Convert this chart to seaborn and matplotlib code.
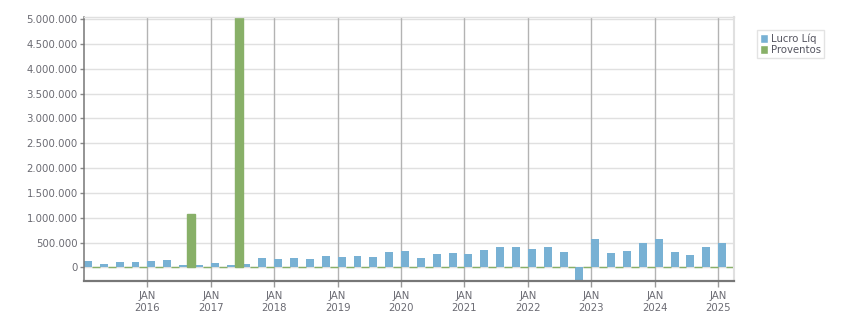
import matplotlib
matplotlib.use("Agg")
import matplotlib.pyplot as plt
import seaborn as sns
import pandas as pd
from matplotlib.ticker import FuncFormatter

# Quarterly data Q1 2015 .. Q1 2025
quarters = [f"{y}T{q}" for y in range(2015, 2026) for q in range(1, 5)][:41]
lucro_liq = [128000, 67000, 108000, 108000, 128000, 155000, 47000, 47000,
             87000, 47000, 67000, 188000, 168000, 188000, 168000, 228000,
             208000, 228000, 208000, 309000, 329000, 188000, 269000, 289000,
             269000, 349000, 410000, 410000, 370000, 410000, 309000, -255000,
             571000, 289000, 329000, 491000, 571000, 309000, 249000, 410000,
             491000]
proventos = [0, 0, 0, 0, 0, 0, 1082000, 0,
             0, 5050000, 0, 0, 0, 0, 0, 0,
             0, 0, 0, 0, 0, 0, 0, 0,
             0, 0, 0, 0, 0, 0, 0, 0,
             0, 0, 0, 0, 0, 0, 0, 0,
             0]
series_names = ["Lucro Líq", "Proventos"]
year_labels = ["JAN\n2016", "JAN\n2017", "JAN\n2018", "JAN\n2019", "JAN\n2020",
               "JAN\n2021", "JAN\n2022", "JAN\n2023", "JAN\n2024", "JAN\n2025"]
y_ticks = [0, 500000, 1000000, 1500000, 2000000, 2500000, 3000000,
           3500000, 4000000, 4500000, 5000000]

BLUE = "#78b1d4"
GREEN = "#88b068"
TXT = "#6a6a72"

df = pd.DataFrame({
    "quarter": quarters * 2,
    "serie": [series_names[0]] * len(quarters) + [series_names[1]] * len(quarters),
    "valor": lucro_liq + proventos,
})

sns.set_style("white")
plt.rcParams["font.family"] = ["DejaVu Sans"]

fig = plt.figure(figsize=(8.51, 3.13), dpi=100)
ax = fig.add_axes([84 / 851, 1 - 281 / 313, (734 - 84) / 851, (281 - 17) / 313])

sns.barplot(data=df, x="quarter", y="valor", hue="serie", order=quarters,
            hue_order=series_names, palette=[BLUE, GREEN], width=1.0,
            dodge=True, saturation=1, ax=ax, zorder=3)

# make zero-height green bars visible as thin line
for p in ax.containers[1]:
    p.set_edgecolor(GREEN)
    p.set_linewidth(1.0)
for p in ax.containers[0]:
    p.set_linewidth(0)

ax.set_xlim(-0.5, len(quarters) - 0.5)
ax.set_ylim(-276000, 5046000)

# x ticks at January boundaries
xt = [3.5 + 4 * k for k in range(len(year_labels))]
ax.set_xticks(xt)
ax.set_xticklabels(year_labels, fontsize=7.3, color=TXT, linespacing=1.3)
ax.set_yticks(y_ticks)
ax.yaxis.set_major_formatter(FuncFormatter(lambda v, _: f"{int(v):,}".replace(",", ".")))
ax.tick_params(axis="y", labelsize=7.3, labelcolor=TXT, length=3, width=1,
               color="#888888", pad=1.5, left=True)
ax.tick_params(axis="x", length=4, width=1, color="#999999", pad=3, bottom=True)

# grids
for y in y_ticks:
    ax.axhline(y, color="#e0e0e0", lw=1, zorder=0)
for x in xt:
    ax.axvline(x, color="#b3b3b3", lw=1, zorder=1)

ax.set_xlabel("")
ax.set_ylabel("")

ax.spines["left"].set_color("#777777")
ax.spines["left"].set_linewidth(1.1)
ax.spines["bottom"].set_color("#777777")
ax.spines["bottom"].set_linewidth(1.6)
ax.spines["top"].set_color("#e0e0e0")
ax.spines["top"].set_linewidth(1)
ax.spines["right"].set_color("#e0e0e0")
ax.spines["right"].set_linewidth(1.5)
for s in ax.spines.values():
    s.set_visible(True)
    s.set_zorder(5)

handles, labels = ax.get_legend_handles_labels()
if ax.get_legend() is not None:
    ax.get_legend().remove()
leg = fig.legend(handles, labels, loc="upper left",
                 bbox_to_anchor=(757 / 851, 1 - 30 / 313),
                 bbox_transform=fig.transFigure, fontsize=7.3, frameon=True,
                 fancybox=False, handlelength=0.8, handleheight=1.0,
                 handletextpad=0.3, borderpad=0.3, labelspacing=0.15,
                 borderaxespad=0)
leg.get_frame().set_edgecolor("#dddddd")
leg.get_frame().set_linewidth(1)
for t in leg.get_texts():
    t.set_color("#555560")

fig.savefig("out.png", dpi=100)
